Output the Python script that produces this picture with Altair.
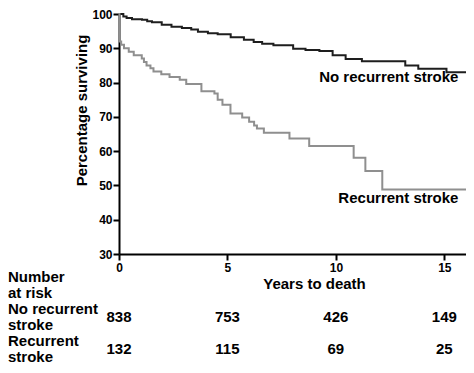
import altair as alt
import pandas as pd

# ---- data ----
no_rec_t = [0, 0.2, 0.35, 0.6, 1.06, 1.3, 1.52, 1.97, 2.42, 2.9, 3.33, 3.64, 4.1, 4.55,
            5.15, 5.76, 6.21, 6.6, 7.12, 8.03, 8.6, 9.24, 9.85, 10.45, 11.2, 13.2, 13.8, 15.1, 16]
no_rec_v = [100, 99.3, 98.8, 98.5, 98.3, 97.9, 97.6, 96.9, 96.3, 95.9, 95.5, 94.8, 94.4, 94.1,
            93.2, 92.5, 91.8, 91.3, 90.9, 89.9, 89.5, 89.2, 88.0, 86.9, 86.2, 85.0, 84.0, 83.0, 83.0]

rec_t = [0, 0.02, 0.1, 0.23, 0.45, 0.68, 1.05, 1.15, 1.27, 1.45, 1.59, 1.95, 2.33, 2.8, 3.1,
         3.8, 4.4, 4.55, 4.77, 5.14, 5.68, 6.0, 6.23, 6.36, 6.68, 7.86, 8.77, 10.82, 11.36, 12.14, 16]
rec_v = [100, 92.0, 91.0, 90.0, 89.0, 88.0, 87.0, 86.0, 85.0, 84.2, 83.2, 82.4, 81.6, 80.8, 79.6,
         77.5, 76.8, 75.0, 73.5, 71.0, 69.8, 68.6, 67.5, 66.6, 65.4, 63.7, 61.5, 58.1, 54.2, 48.8, 48.8]

groups = ["No recurrent stroke", "Recurrent stroke"]
group_colors = ["#1e1e1e", "#8f8f8f"]

x_ticks = [0, 5, 10, 15]
y_ticks = [30, 40, 50, 60, 70, 80, 90, 100]

risk_times = [0, 5, 10, 15]
risk_no_rec = [838, 753, 426, 149]
risk_rec = [132, 115, 69, 25]

row_label_head = "Number\nat risk"
row_label_no_rec = "No recurrent\nstroke"
row_label_rec = "Recurrent\nstroke"

label_t = [15.65, 15.65]
label_v = [81.5, 46.3]

FONT = "Liberation Sans"

curves = pd.concat([
    pd.DataFrame({"t": no_rec_t, "v": no_rec_v, "g": groups[0]}),
    pd.DataFrame({"t": rec_t, "v": rec_v, "g": groups[1]}),
])

x_scale = alt.Scale(domain=[0, 16], nice=False, zero=False)
y_scale = alt.Scale(domain=[30, 100], nice=False, zero=False)

x_axis = alt.Axis(values=x_ticks, title="Years to death", format="d",
                  titleX=195, titleY=29, titleBaseline="middle",
                  titleAnchor="start", titleAlign="center",
                  labelPadding=2, labelFlush=False, labelOverlap=False)
y_axis = alt.Axis(values=y_ticks, title="Percentage surviving", format="d",
                  titleX=-38, titleY=96, titleBaseline="middle",
                  titleAlign="center", labelPadding=1,
                  labelFlush=False, labelOverlap=False)

lines = alt.Chart(curves).mark_line(interpolate="step-after", strokeWidth=2).encode(
    x=alt.X("t:Q", scale=x_scale, axis=x_axis),
    y=alt.Y("v:Q", scale=y_scale, axis=y_axis),
    color=alt.Color("g:N", scale=alt.Scale(domain=groups, range=group_colors), legend=None),
    order=alt.Order("t:Q"),
)

labels_df = pd.DataFrame({"t": label_t, "v": label_v, "label": groups})
curve_labels = alt.Chart(labels_df).mark_text(
    align="right", baseline="middle", font=FONT, fontSize=15, fontWeight="bold", color="black"
).encode(x=alt.X("t:Q", scale=x_scale, axis=x_axis),
         y=alt.Y("v:Q", scale=y_scale, axis=y_axis), text="label:N")


def risk_layer(values, ypix):
    df = pd.DataFrame({"t": risk_times, "n": values})
    return alt.Chart(df).mark_text(
        align="center", baseline="middle", font=FONT, fontSize=15, fontWeight="bold", color="black"
    ).encode(x=alt.X("t:Q", scale=x_scale, axis=x_axis), y=alt.value(ypix), text="n:Q")


def row_label(text, ypix):
    df = pd.DataFrame({"label": [text]})
    return alt.Chart(df).mark_text(
        align="left", baseline="middle", font=FONT, fontSize=15, fontWeight="bold",
        color="black", lineBreak="\n", lineHeight=16
    ).encode(x=alt.value(-111), y=alt.value(ypix), text="label:N")


chart = alt.layer(
    lines,
    curve_labels,
    risk_layer(risk_no_rec, 303),
    risk_layer(risk_rec, 335),
    row_label(row_label_head, 263),
    row_label(row_label_no_rec, 295),
    row_label(row_label_rec, 327),
).properties(
    width=347,
    height=240,
    autosize=alt.AutoSizeParams(type="none"),
    padding={"left": 111, "top": 6, "right": 0, "bottom": 110},
).configure_view(stroke=None).configure_axis(
    grid=False,
    domainColor="black", domainWidth=2,
    tickColor="black", tickWidth=2, tickSize=6,
    labelFont=FONT, labelFontSize=12, labelFontWeight="bold", labelColor="black",
    titleFont=FONT, titleFontSize=15, titleFontWeight="bold", titleColor="black",
)

chart.save("out.html", embed_options={"renderer": "svg", "actions": False})
